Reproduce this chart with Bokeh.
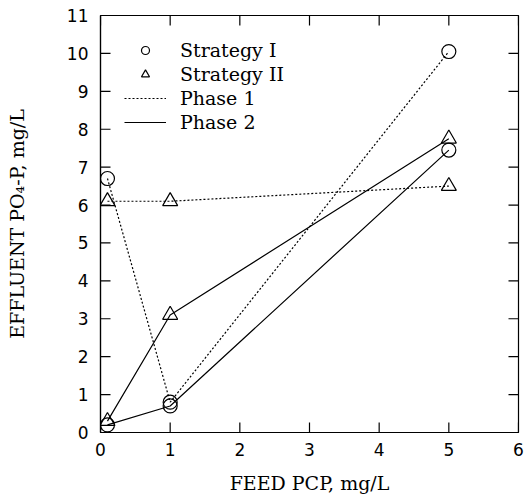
from bokeh.plotting import figure
from bokeh.models import Range1d, FixedTicker, Legend, LegendItem
from bokeh.embed import file_html
from bokeh.resources import INLINE

# ---- data ----
feed_pcp = [0.1, 1, 5]
s1_phase1 = [6.7, 0.8, 10.05]
s1_phase2 = [0.2, 0.7, 7.45]
s2_phase1 = [6.1, 6.1, 6.5]
s2_phase2 = [0.3, 3.1, 7.75]
x_ticks = [0, 1, 2, 3, 4, 5, 6]
y_ticks = [0, 1, 2, 3, 4, 5, 6, 7, 8, 9, 10, 11]
x_lo, x_hi = 0, 6
y_lo, y_hi = 0, 11

SERIF = "DejaVu Serif"
SANS = "DejaVu Sans"

FW, FH = 418, 417          # frame size in px
TICK = 10                  # inward tick length in px

p = figure(frame_width=FW, frame_height=FH,
           x_range=Range1d(x_lo, x_hi), y_range=Range1d(y_lo, y_hi),
           output_backend="svg", toolbar_location=None,
           min_border_left=100, min_border_right=7, min_border_top=15, min_border_bottom=63)

p.xgrid.grid_line_color = None
p.ygrid.grid_line_color = None
p.outline_line_color = "black"
p.outline_line_width = 1.2
p.background_fill_color = "white"
p.border_fill_color = "white"

xa = p.xaxis[0]
ya = p.yaxis[0]
for ax, ticks in ((xa, x_ticks), (ya, y_ticks)):
    ax.ticker = FixedTicker(ticks=list(ticks))
    ax.major_tick_in = 0
    ax.major_tick_out = 0
    ax.minor_tick_line_color = None
    ax.axis_line_color = "black"
    ax.axis_line_width = 1.2
    ax.major_label_text_font = SANS
    ax.major_label_text_font_size = "17px"
    ax.major_label_text_color = "black"
    ax.axis_label_text_font = SERIF
    ax.axis_label_text_font_style = "normal"
    ax.axis_label_text_font_size = "19px"
    ax.axis_label_text_color = "black"
xa.major_label_standoff = 10
ya.major_label_standoff = 12
xa.axis_label = "FEED PCP, mg/L"
ya.axis_label = "EFFLUENT PO\u2084-P, mg/L"
xa.axis_label_standoff = 13
ya.axis_label_standoff = 36

# inward tick marks on all four sides (length converted from px to data units)
dx = TICK * (x_hi - x_lo) / FW
dy = TICK * (y_hi - y_lo) / FH
tick_xs, tick_ys = [], []
for t in x_ticks:
    tick_xs.append([float(t), float(t)])
    tick_ys.append([float(y_lo), y_lo + dy])
    tick_xs.append([float(t), float(t)])
    tick_ys.append([float(y_hi), y_hi - dy])
for t in y_ticks:
    tick_xs.append([float(x_lo), x_lo + dx])
    tick_ys.append([float(t), float(t)])
    tick_xs.append([float(x_hi), x_hi - dx])
    tick_ys.append([float(t), float(t)])
p.multi_line(xs=tick_xs, ys=tick_ys, line_color="black", line_width=1.2)

lw = 1.2
dash = "2 2"
l1 = p.line(feed_pcp, s1_phase1, line_color="black", line_width=lw, line_dash=dash)
p.line(feed_pcp, s2_phase1, line_color="black", line_width=lw, line_dash=dash)
l2 = p.line(feed_pcp, s1_phase2, line_color="black", line_width=lw)
p.line(feed_pcp, s2_phase2, line_color="black", line_width=lw)

c1 = p.scatter(feed_pcp, s1_phase1, marker="circle", size=14, fill_color=None,
               line_color="black", line_width=lw)
p.scatter(feed_pcp, s1_phase2, marker="circle", size=14, fill_color=None,
          line_color="black", line_width=lw)
t1 = p.scatter(feed_pcp, s2_phase1, marker="triangle", size=15, fill_color=None,
               line_color="black", line_width=lw)
p.scatter(feed_pcp, s2_phase2, marker="triangle", size=15, fill_color=None,
          line_color="black", line_width=lw)

legend = Legend(items=[
    LegendItem(label="Strategy I", renderers=[c1]),
    LegendItem(label="Strategy II", renderers=[t1]),
    LegendItem(label="Phase 1", renderers=[l1]),
    LegendItem(label="Phase 2", renderers=[l2]),
], location="top_left")
legend.background_fill_alpha = 0
legend.border_line_alpha = 0
legend.glyph_width = 42
legend.glyph_height = 20
legend.spacing = 2
legend.padding = 0
legend.margin = 24
legend.label_standoff = 14
legend.label_text_font = SERIF
legend.label_text_font_size = "19px"
legend.label_text_color = "black"
p.add_layout(legend)

open("out.html", "w").write(file_html(p, INLINE))
